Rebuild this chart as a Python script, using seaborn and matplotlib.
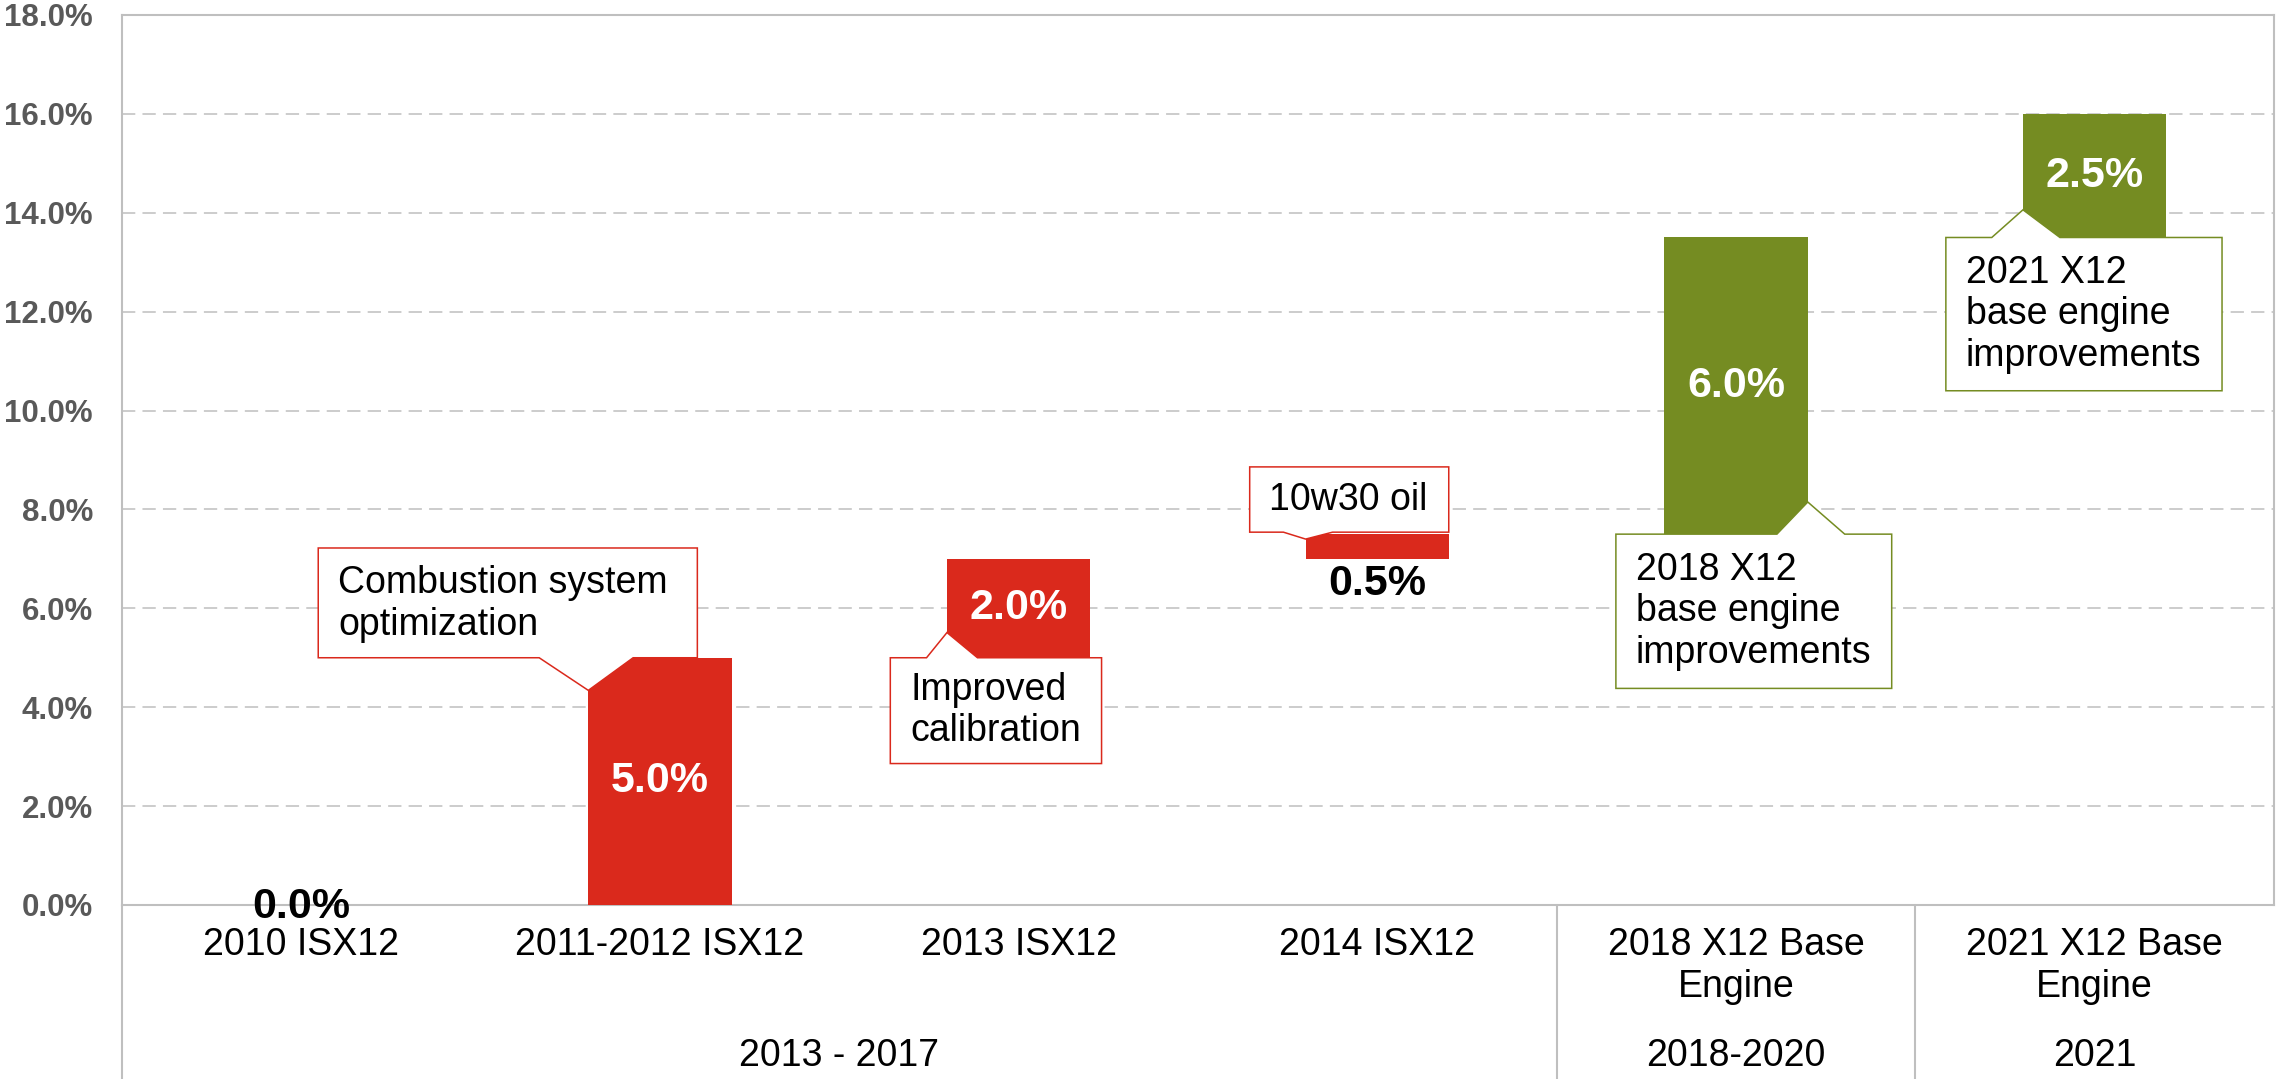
import numpy as np
import pandas as pd
import matplotlib
matplotlib.use('Agg')
import matplotlib.pyplot as plt
import seaborn as sns
from matplotlib.patches import Polygon

# chart data
categories = ['2010 ISX12', '2011-2012 ISX12', '2013 ISX12', '2014 ISX12',
              '2018 X12 Base\nEngine', '2021 X12 Base\nEngine']
gains = [0.0, 5.0, 2.0, 0.5, 6.0, 2.5]
bar_kind = ['red', 'red', 'red', 'red', 'green', 'green']
periods = ['2013 - 2017', '2018-2020', '2021']
period_first = [0, 4, 5]
period_last = [3, 4, 5]
notes = ['Combustion system\noptimization', 'Improved\ncalibration', '10w30 oil',
         '2018 X12\nbase engine\nimprovements', '2021 X12\nbase engine\nimprovements']
note_bar = [1, 2, 3, 4, 5]

RED = '#DA291C'
GREEN = '#758C22'
GRID = '#BFBFBF'
colors = {'red': RED, 'green': GREEN}

# waterfall: each bar starts where the previous one ended
starts = np.concatenate([[0.0], np.cumsum(gains)[:-1]])
df = pd.DataFrame({'stage': categories, 'gain': gains, 'start': starts})

sns.set_theme(style='white')
plt.rcParams['font.family'] = ['Liberation Sans', 'DejaVu Sans']

fig, ax = plt.subplots(figsize=(22.77, 10.79), dpi=100)
fig.subplots_adjust(left=0.0536, right=0.9987, bottom=0.1613, top=0.9861)

sns.barplot(data=df, x='stage', y='gain', bottom=df['start'].values, width=0.4,
            color=RED, saturation=1, errorbar=None, ax=ax, zorder=3)
for patch, kind in zip(ax.patches, bar_kind):
    patch.set_facecolor(colors[kind])
    patch.set_edgecolor('none')

ax.set_xlim(-0.5, 5.5)
ax.set_ylim(0, 18)
ax.set_yticks(np.arange(0, 18.1, 2))
ax.set_yticklabels([f'{v:.1f}%' for v in np.arange(0, 18.1, 2)])
ax.set_xlabel('')
ax.set_ylabel('')
ax.tick_params(axis='y', length=0, pad=21, labelsize=22.5, labelcolor='#595959')
for lab in ax.get_yticklabels():
    lab.set_fontweight('bold')
ax.set_xticks(range(len(categories)))
ax.set_xticklabels(categories, fontsize=27, color='black', linespacing=1.2)
ax.tick_params(axis='x', length=0, pad=16)

ax.yaxis.grid(True, color=GRID, linestyle=(0, (8.7, 4.7)), linewidth=1.1, zorder=0)
ax.set_axisbelow(True)
for sp in ax.spines.values():
    sp.set_visible(True)
    sp.set_color(GRID)
    sp.set_linewidth(1.5)

# category axis separators and group labels
tr = ax.get_xaxis_transform()
for xs in [-0.5, 3.5, 4.5]:
    ax.plot([xs, xs], [0, -0.2], transform=tr, clip_on=False, color=GRID, lw=1.5)
for name, a, b in zip(periods, period_first, period_last):
    ax.text((a + b) / 2, -0.1697, name, transform=tr, ha='center', va='center',
            fontsize=27, color='black')

# value labels
for i, (g, s) in enumerate(zip(gains, starts)):
    if g >= 1:
        ax.text(i, s + g / 2, f'{g:.1f}%', ha='center', va='center', color='white',
                fontsize=31, fontweight='bold', zorder=6)
    elif g == 0:
        ax.text(i, s - 0.05, f'{g:.1f}%', ha='center', va='center', color='black',
                fontsize=31, fontweight='bold', zorder=6, clip_on=False)
    else:
        ax.text(i, s - 0.5, f'{g:.1f}%', ha='center', va='center', color='black',
                fontsize=31, fontweight='bold', zorder=6)

# callout boxes: (x0, x1, y0, y1), tail (left base, tip x, tip y, right base), text pos
boxes = [(0.047, 1.104, 5.0, 7.22), (1.642, 2.231, 2.86, 5.0), (2.644, 3.199, 7.54, 8.86),
         (3.665, 4.434, 4.38, 7.5), (4.585, 5.355, 10.4, 13.5)]
tails = [(0.663, 0.8, 4.34, 0.925), (1.743, 1.8, 5.51, 1.885), (2.738, 2.8, 7.40, 2.875),
         (4.114, 4.2, 8.15, 4.303), (4.713, 4.8, 14.06, 4.903)]
text_pos = [(0.1025, 6.09, 'left'), (1.698, 3.93, 'left'), (2.92, 8.2, 'center'),
            (3.72, 5.94, 'left'), (4.641, 11.95, 'left')]


def callout(ax, box, tail, edge):
    x0, x1, y0, y1 = box
    tl, px, py, trr = tail
    if py < y0:
        pts = [(x0, y0), (x0, y1), (x1, y1), (x1, y0), (trr, y0), (px, py), (tl, y0)]
    else:
        pts = [(x0, y0), (x0, y1), (tl, y1), (px, py), (trr, y1), (x1, y1), (x1, y0)]
    ax.add_patch(Polygon(pts, closed=True, facecolor='white', edgecolor=edge,
                         lw=1.1, zorder=4, joinstyle='miter'))


for note, b, box, tail, (tx, ty, ha) in zip(notes, note_bar, boxes, tails, text_pos):
    callout(ax, box, tail, colors[bar_kind[b]])
    ax.text(tx, ty, note, ha=ha, va='center', fontsize=27, color='black',
            linespacing=1.2, zorder=5)

fig.savefig('out.png', dpi=100)
